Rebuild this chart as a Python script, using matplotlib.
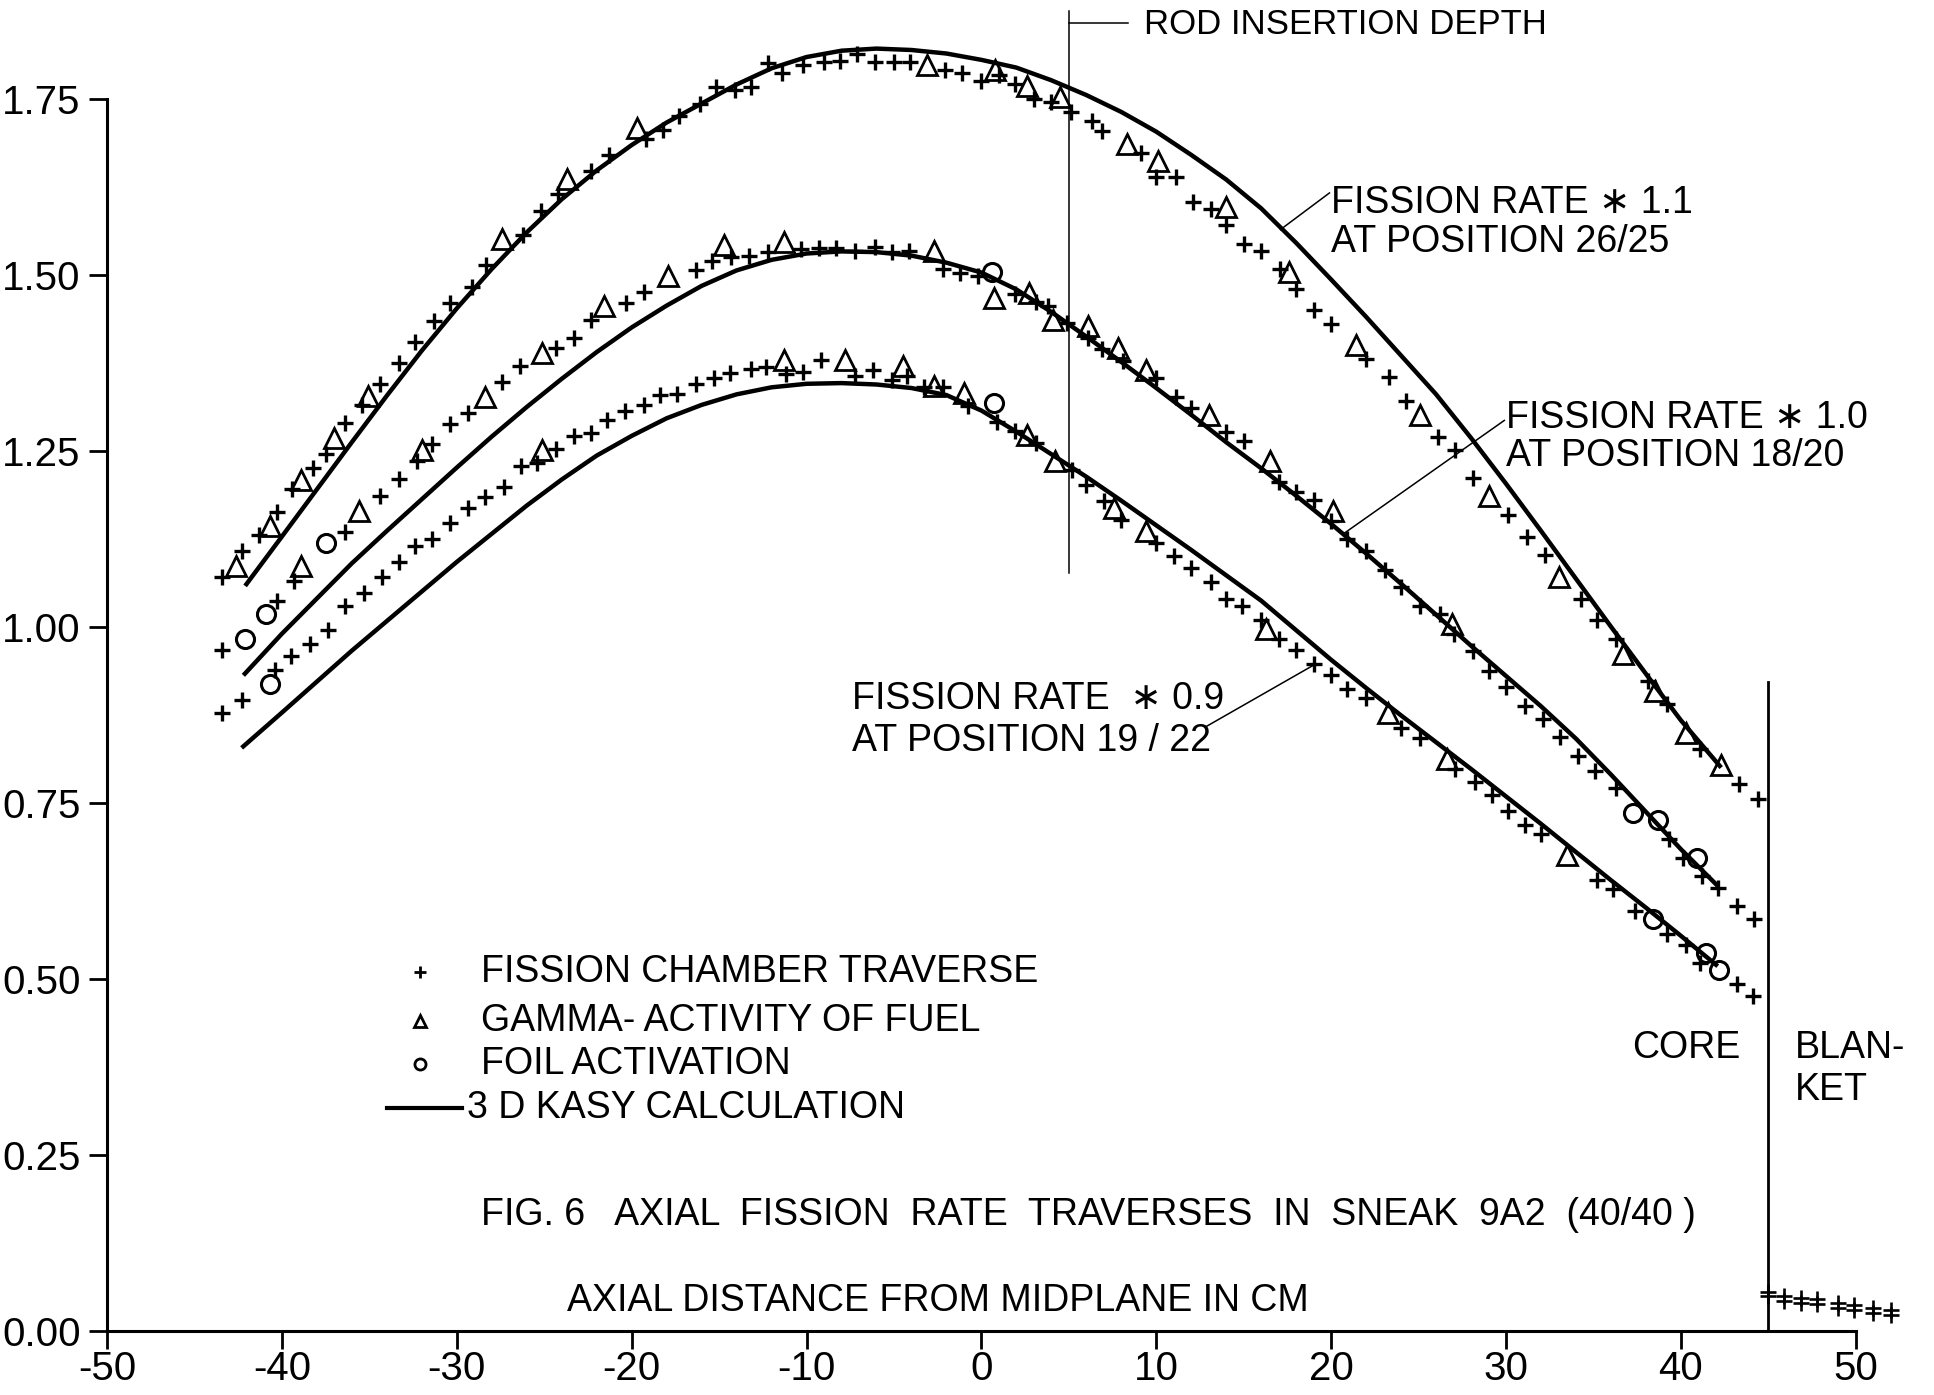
import matplotlib
matplotlib.use('Agg')
import matplotlib.pyplot as plt

# axial fission rate traverses, SNEAK 9A2

# --- top group: fission rate * 1.1 at position 26/25 ---
top_fc_x = [-43.4, -42.3, -41.3, -40.3, -39.4, -38.2, -37.5, -36.4, -35.4, -34.4, -33.3, -32.4, -31.3, -30.4,
            -29.1, -28.3, -26.2, -25.2, -24.2, -22.3, -21.3, -19.2, -18.2, -17.3, -16.1, -15.2, -14.1, -13.2,
            -12.2, -11.4, -10.2, -9.0, -8.1, -7.1, -6.1, -5.0, -4.1, -2.1, -1.1, 0.0, 1.0, 1.9, 3.0, 4.0,
            5.1, 6.3, 6.9, 9.1, 10.0, 11.1, 12.1, 13.1, 14.0, 15.0, 16.0, 17.1, 18.0, 19.0, 20.0, 22.0,
            23.3, 24.3, 26.1, 27.1, 28.1, 30.1, 31.2, 32.2, 34.3, 35.2, 36.3, 38.1, 39.2, 41.1, 43.3, 44.4]
top_fc_y = [1.070, 1.108, 1.130, 1.163, 1.195, 1.226, 1.246, 1.290, 1.315, 1.345, 1.375, 1.405, 1.434, 1.460,
            1.483, 1.513, 1.557, 1.590, 1.614, 1.647, 1.670, 1.693, 1.706, 1.725, 1.743, 1.767, 1.762, 1.767,
            1.800, 1.786, 1.797, 1.802, 1.804, 1.813, 1.802, 1.802, 1.802, 1.791, 1.786, 1.775, 1.783, 1.771,
            1.750, 1.745, 1.731, 1.718, 1.704, 1.673, 1.639, 1.639, 1.603, 1.593, 1.571, 1.544, 1.533, 1.508,
            1.479, 1.450, 1.430, 1.380, 1.355, 1.320, 1.269, 1.251, 1.211, 1.159, 1.128, 1.102, 1.040, 1.010,
            0.983, 0.923, 0.890, 0.827, 0.776, 0.755]
top_gam_x = [-42.6, -40.7, -38.9, -37.0, -35.05, -27.4, -23.7, -19.7, -3.1, 0.8, 2.6, 4.5, 8.3, 10.1,
             14.0, 17.6, 21.4, 25.1, 29.0, 33.0, 36.7, 38.5, 40.3, 42.3]
top_gam_y = [1.086, 1.143, 1.209, 1.268, 1.327, 1.550, 1.636, 1.708, 1.797, 1.791, 1.768, 1.752, 1.685, 1.661,
             1.596, 1.504, 1.400, 1.301, 1.185, 1.071, 0.961, 0.909, 0.849, 0.803]
top_calc_x = [-42.1, -40, -38, -36, -34, -32, -30, -28, -26, -24, -22, -20, -18, -16, -14, -12, -10, -8, -6,
              -4, -2, 0, 2, 4, 6, 8, 10, 12, 14, 16, 18, 20, 22, 24, 26, 28, 30, 32, 34, 36, 38, 40, 42.3]
top_calc_y = [1.058, 1.128, 1.195, 1.262, 1.328, 1.392, 1.452, 1.508, 1.560, 1.607, 1.648, 1.684, 1.716,
              1.743, 1.770, 1.793, 1.809, 1.818, 1.821, 1.819, 1.814, 1.805, 1.794, 1.776, 1.755, 1.731,
              1.703, 1.670, 1.635, 1.594, 1.545, 1.493, 1.440, 1.385, 1.330, 1.268, 1.203, 1.136, 1.068,
              1.000, 0.933, 0.867, 0.800]

# --- middle group: fission rate * 1.0 at position 18/20 ---
mid_fc_x = [-43.4, -40.3, -39.3, -36.4, -34.4, -33.3, -32.3, -31.4, -30.4, -29.35, -27.4, -26.4, -24.3, -23.3,
            -22.35, -20.3, -19.3, -16.3, -15.4, -14.3, -13.3, -12.2, -10.3, -9.3, -8.3, -7.2, -6.1, -5.1,
            -4.15, -2.2, -1.2, -0.2, 1.9, 3.1, 3.8, 4.9, 6.1, 6.9, 8.1, 10.0, 11.1, 12.0, 14.0, 15.0, 17.0,
            18.0, 19.0, 20.0, 20.9, 22.0, 23.1, 24.0, 25.1, 26.2, 27.0, 28.1, 29.0, 30.0, 31.1, 32.1, 33.1,
            34.1, 35.1, 36.3, 39.3, 40.1, 41.2, 42.1, 43.2, 44.2]
mid_fc_y = [0.967, 1.037, 1.065, 1.135, 1.186, 1.210, 1.236, 1.260, 1.288, 1.304, 1.347, 1.370, 1.396, 1.410,
            1.436, 1.460, 1.476, 1.507, 1.519, 1.525, 1.527, 1.532, 1.537, 1.538, 1.538, 1.534, 1.539, 1.532,
            1.533, 1.508, 1.503, 1.498, 1.473, 1.461, 1.456, 1.432, 1.410, 1.394, 1.378, 1.353, 1.326, 1.310,
            1.277, 1.264, 1.205, 1.192, 1.180, 1.150, 1.124, 1.108, 1.081, 1.056, 1.029, 1.018, 0.990, 0.966,
            0.937, 0.915, 0.887, 0.869, 0.843, 0.817, 0.795, 0.771, 0.698, 0.671, 0.646, 0.629, 0.604, 0.585]
mid_gam_x = [-38.9, -35.6, -32.0, -28.4, -25.1, -21.6, -17.9, -14.7, -11.3, -2.7, 0.7, 2.7, 4.1, 6.1, 7.8,
             9.4, 13.0, 16.5, 20.1, 26.9]
mid_gam_y = [1.086, 1.165, 1.251, 1.326, 1.389, 1.455, 1.498, 1.542, 1.546, 1.533, 1.467, 1.474, 1.435, 1.427,
             1.396, 1.364, 1.301, 1.236, 1.165, 1.004]
mid_foil_x = [-42.1, -40.9, -37.5, 0.6, 37.25, 38.7, 40.9]
mid_foil_y = [0.983, 1.018, 1.119, 1.504, 0.735, 0.725, 0.671]
mid_calc_x = [-42.2, -40, -38, -36, -34, -32, -30, -28, -26, -24, -22, -20, -18, -16, -14, -12, -10, -8, -6,
              -4, -2, 0, 2, 4, 6, 8, 10, 12, 14, 16, 18, 20, 22, 24, 26, 28, 30, 32, 34, 36, 38, 40, 42.1]
mid_calc_y = [0.931, 0.990, 1.040, 1.090, 1.136, 1.181, 1.226, 1.270, 1.312, 1.352, 1.390, 1.425, 1.456,
              1.484, 1.506, 1.521, 1.530, 1.533, 1.532, 1.527, 1.517, 1.503, 1.479, 1.447, 1.412, 1.376,
              1.339, 1.301, 1.262, 1.225, 1.186, 1.146, 1.104, 1.061, 1.017, 0.973, 0.930, 0.887, 0.841,
              0.790, 0.737, 0.684, 0.632]

# --- bottom group: fission rate * 0.9 at position 19/22 ---
bot_fc_x = [-43.4, -42.3, -40.4, -39.5, -38.4, -37.35, -36.4, -35.3, -34.3, -33.3, -32.4, -31.4, -30.4, -29.35,
            -28.4, -27.3, -26.3, -25.4, -24.3, -23.3, -22.35, -21.4, -20.4, -19.3, -18.4, -17.4, -16.3, -15.3,
            -14.4, -13.2, -12.3, -11.2, -10.2, -9.2, -7.2, -6.2, -5.1, -4.25, -3.3, -2.2, -0.75, 0.9, 1.9,
            3.1, 5.2, 6.0, 7.0, 8.0, 10.0, 11.0, 12.0, 13.1, 14.0, 14.9, 16.0, 17.0, 18.0, 19.0, 20.0, 20.9,
            22.0, 24.0, 25.1, 27.1, 28.2, 29.2, 30.1, 31.1, 32.0, 35.2, 36.1, 37.35, 39.2, 40.3, 41.1, 43.2, 44.1]
bot_fc_y = [0.878, 0.896, 0.938, 0.959, 0.976, 0.995, 1.029, 1.048, 1.070, 1.092, 1.114, 1.124, 1.148, 1.169,
            1.184, 1.198, 1.228, 1.232, 1.253, 1.271, 1.275, 1.293, 1.307, 1.315, 1.329, 1.331, 1.345, 1.353,
            1.360, 1.366, 1.369, 1.359, 1.362, 1.379, 1.356, 1.364, 1.351, 1.356, 1.340, 1.340, 1.313, 1.291,
            1.278, 1.261, 1.223, 1.201, 1.179, 1.152, 1.119, 1.100, 1.083, 1.063, 1.040, 1.029, 1.010, 0.983,
            0.967, 0.947, 0.931, 0.911, 0.899, 0.856, 0.842, 0.798, 0.779, 0.761, 0.738, 0.719, 0.705, 0.640,
            0.627, 0.597, 0.564, 0.548, 0.523, 0.493, 0.475]
bot_gam_x = [-25.1, -11.3, -7.8, -4.5, -2.7, -1.0, 2.6, 4.2, 7.6, 9.4, 16.3, 23.25, 26.6, 33.5]
bot_gam_y = [1.251, 1.379, 1.379, 1.370, 1.342, 1.332, 1.272, 1.236, 1.168, 1.136, 0.997, 0.877, 0.812, 0.676]
bot_foil_x = [-40.7, 0.7, 38.4, 41.45, 42.2]
bot_foil_y = [0.918, 1.318, 0.585, 0.537, 0.512]
bot_calc_x = [-42.3, -40, -38, -36, -34, -32, -30, -28, -26, -24, -22, -20, -18, -16, -14, -12, -10, -8, -6,
              -4, -2, 0, 2, 4, 6, 8, 10, 12, 14, 16, 18, 20, 22, 24, 26, 28, 30, 32, 34, 36, 38, 40, 42.1]
bot_calc_y = [0.828, 0.878, 0.922, 0.966, 1.008, 1.050, 1.092, 1.132, 1.172, 1.209, 1.243, 1.271, 1.296,
              1.315, 1.330, 1.340, 1.345, 1.346, 1.344, 1.339, 1.329, 1.307, 1.277, 1.245, 1.213, 1.179,
              1.144, 1.109, 1.073, 1.037, 0.995, 0.953, 0.913, 0.874, 0.836, 0.798, 0.759, 0.720, 0.680,
              0.640, 0.601, 0.561, 0.518]

# --- blanket (fission chamber, overlapping traverses) ---
blanket_x = [44.95, 45.9, 46.85, 47.8, 48.95, 49.9, 51.0, 52.0]
blanket_y1 = [0.056, 0.050, 0.047, 0.045, 0.040, 0.037, 0.033, 0.030]
blanket_y2 = [0.049, 0.043, 0.040, 0.038, 0.033, 0.030, 0.026, 0.023]

xticks = [-50, -40, -30, -20, -10, 0, 10, 20, 30, 40, 50]
yticks = [0.0, 0.25, 0.5, 0.75, 1.0, 1.25, 1.5, 1.75]

plt.rcParams['font.family'] = ['Liberation Sans Narrow', 'Liberation Sans', 'DejaVu Sans']
plt.rcParams['axes.unicode_minus'] = False
FS = 27

fig = plt.figure(figsize=(19.34, 13.95), dpi=100)
ax = fig.add_axes([0.0553, 0.0459, 0.9043, 0.9541])
ax.set_xlim(-50, 50)
ax.set_ylim(0, 1.89)

fc = dict(linestyle='none', marker='+', markersize=12, markeredgewidth=2.4, color='black', clip_on=False)
gam = dict(linestyle='none', marker='^', markersize=15, markeredgewidth=2.0, markerfacecolor='none',
           markeredgecolor='black', clip_on=False)
foil = dict(linestyle='none', marker='o', markersize=13, markeredgewidth=2.2, markerfacecolor='none',
            markeredgecolor='black', clip_on=False)
calc = dict(color='black', linewidth=3.2, solid_capstyle='butt', solid_joinstyle='round', clip_on=False)

for cx, cy in [(top_calc_x, top_calc_y), (mid_calc_x, mid_calc_y), (bot_calc_x, bot_calc_y)]:
    ax.plot(cx, cy, **calc)
for fx, fy in [(top_fc_x, top_fc_y), (mid_fc_x, mid_fc_y), (bot_fc_x, bot_fc_y)]:
    ax.plot(fx, fy, **fc)
for gx, gy in [(top_gam_x, top_gam_y), (mid_gam_x, mid_gam_y), (bot_gam_x, bot_gam_y)]:
    ax.plot(gx, gy, **gam)
for ox, oy in [(mid_foil_x, mid_foil_y), (bot_foil_x, bot_foil_y)]:
    ax.plot(ox, oy, **foil)
ax.plot(blanket_x, blanket_y1, linestyle='none', marker='+', markersize=11, markeredgewidth=1.9,
        color='black', clip_on=False)
ax.plot(blanket_x, blanket_y2, linestyle='none', marker='+', markersize=11, markeredgewidth=1.9,
        color='black', clip_on=False)

# rod insertion depth and core / blanket boundary
ax.plot([5, 5], [1.076, 1.874], color='black', linewidth=1.1, clip_on=False)
ax.plot([5, 8.4], [1.857, 1.857], color='black', linewidth=1.1, clip_on=False)
ax.text(9.3, 1.855, 'ROD INSERTION DEPTH', fontsize=25, va='center', ha='left')
ax.plot([45, 45], [0, 0.922], color='black', linewidth=2.0, clip_on=False)
ax.text(37.2, 0.402, 'CORE', fontsize=FS, va='center', ha='left')
ax.text(46.5, 0.402, 'BLAN-', fontsize=FS, va='center', ha='left')
ax.text(46.5, 0.342, 'KET', fontsize=FS, va='center', ha='left')

# curve annotations
ax.plot([19.9, 17.1], [1.616, 1.564], color='black', linewidth=1.1)
ax.text(20.0, 1.602, 'FISSION RATE \u2217 1.1', fontsize=FS, va='center', ha='left')
ax.text(20.0, 1.546, 'AT POSITION 26/25', fontsize=FS, va='center', ha='left')
ax.plot([29.9, 20.7], [1.293, 1.132], color='black', linewidth=1.1)
ax.text(30.0, 1.297, 'FISSION RATE \u2217 1.0', fontsize=FS, va='center', ha='left')
ax.text(30.0, 1.242, 'AT POSITION 18/20', fontsize=FS, va='center', ha='left')
ax.plot([12.9, 19.1], [0.859, 0.947], color='black', linewidth=1.1)
ax.text(-7.4, 0.897, 'FISSION RATE  \u2217 0.9', fontsize=FS, va='center', ha='left')
ax.text(-7.4, 0.838, 'AT POSITION 19 / 22', fontsize=FS, va='center', ha='left')

# legend drawn by hand like the original
ax.plot([-32.1], [0.51], linestyle='none', marker='+', markersize=9, markeredgewidth=2, color='black')
ax.plot([-32.1], [0.44], linestyle='none', marker='^', markersize=9, markeredgewidth=2,
        markerfacecolor='none', markeredgecolor='black')
ax.plot([-32.1], [0.379], linestyle='none', marker='o', markersize=8, markeredgewidth=2,
        markerfacecolor='none', markeredgecolor='black')
ax.plot([-34.0, -29.7], [0.317, 0.317], color='black', linewidth=3.0)
ax.text(-28.6, 0.51, 'FISSION CHAMBER TRAVERSE', fontsize=FS, va='center', ha='left')
ax.text(-28.6, 0.44, 'GAMMA- ACTIVITY OF FUEL', fontsize=FS, va='center', ha='left')
ax.text(-28.6, 0.379, 'FOIL ACTIVATION', fontsize=FS, va='center', ha='left')
ax.text(-29.4, 0.317, '3 D KASY CALCULATION', fontsize=FS, va='center', ha='left')

ax.text(-28.6, 0.165, 'FIG. 6   AXIAL  FISSION  RATE  TRAVERSES  IN  SNEAK  9A2  (40/40 )',
        fontsize=FS, va='center', ha='left')
ax.text(-23.7, 0.042, 'AXIAL DISTANCE FROM MIDPLANE IN CM', fontsize=FS, va='center', ha='left')

for s in ['top', 'right']:
    ax.spines[s].set_visible(False)
ax.spines['left'].set_bounds(0, 1.75)
ax.spines['bottom'].set_bounds(-50, 50)
ax.spines['left'].set_linewidth(2.2)
ax.spines['bottom'].set_linewidth(2.2)
ax.set_xticks(xticks)
ax.set_yticks(yticks)
ax.set_xticklabels([str(v) for v in xticks])
ax.set_yticklabels(['%.2f' % v for v in yticks])
ax.tick_params(axis='y', direction='out', length=13, width=2, pad=6, labelsize=29)
ax.tick_params(axis='x', direction='out', length=13, width=2, pad=0.5, labelsize=29)

fig.savefig('out.png', dpi=100)
plt.close(fig)
